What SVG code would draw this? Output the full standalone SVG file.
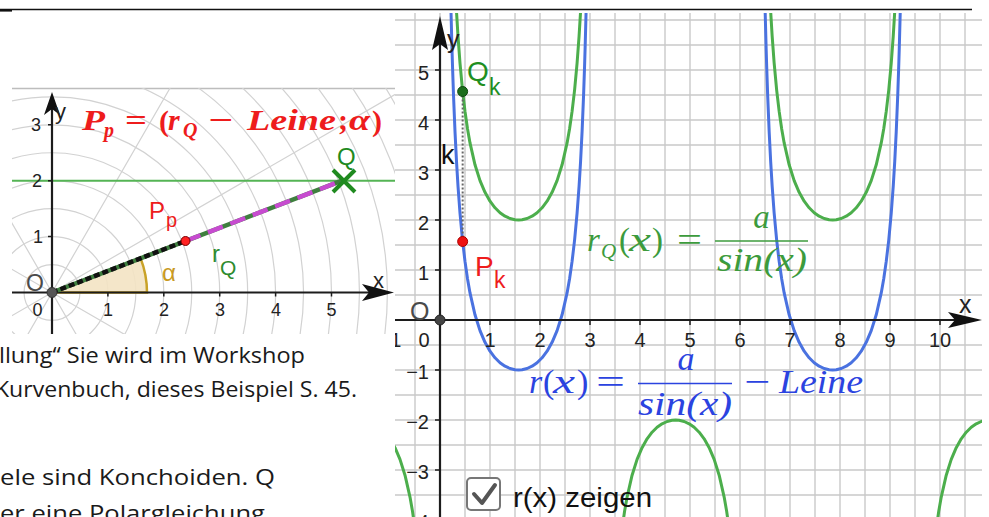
<svg xmlns="http://www.w3.org/2000/svg" width="989" height="517" viewBox="0 0 989 517">
<style>
.txt{font-family:"Open Sans","Lato","Liberation Sans",sans-serif;font-size:22px;fill:#1a1a1a}
.ax{font-family:"Liberation Sans",Arial,sans-serif;fill:#222}
.pg{fill:none;stroke:#d2d2d2;stroke-width:1.2}
.grid{fill:none;stroke:#c9c9c9;stroke-width:1.4}
.axis{stroke:#1c1c1c;stroke-width:2.2;fill:none}
.tick{stroke:#1c1c1c;stroke-width:1.5}
.arrow{fill:#111}
.gc{fill:none;stroke:#4cae4c;stroke-width:3;stroke-linejoin:round}
.bc{fill:none;stroke:#4a72e0;stroke-width:3;stroke-linejoin:round}
.math{font-family:"Liberation Serif","Times New Roman",serif;font-style:italic}
.up{font-style:normal}
.lbl{font-family:"Liberation Sans",Arial,sans-serif}
</style>
<defs>
<clipPath id="clipL"><rect x="12" y="88" width="383" height="246"/></clipPath>
<clipPath id="clipR"><rect x="395" y="13" width="587" height="504"/></clipPath>
<path id="gU" d="M455,-18.4L456.5,11.4L458,36.1L460,63.2L462.5,90.1L465,111.4L467.5,128.7L470,142.9L475,164.8L480,180.6L485,192.3L490,201.2L495,207.8L500,212.7L505,216.2L510,218.5L515,219.7L518.54,220L522.08,219.7L527.08,218.5L532.08,216.2L537.08,212.7L542.08,207.8L547.08,201.2L552.08,192.3L557.08,180.6L562.08,164.8L567.08,142.9L569.58,128.7L572.08,111.4L574.58,90.1L577.08,63.2L579.08,36.1L580.58,11.4L582.08,-18.4"/>
<path id="bU" d="M450,-33.3L451,11.8L452,49.3L452.5,65.8L453.5,95.1L455,131.6L456.5,161.4L458,186.1L460,213.2L462.5,240.1L465,261.4L467.5,278.7L470,292.9L475,314.8L480,330.6L485,342.3L490,351.2L495,357.8L500,362.7L505,366.2L510,368.5L515,369.7L518.54,370L522.08,369.7L527.08,368.5L532.08,366.2L537.08,362.7L542.08,357.8L547.08,351.2L552.08,342.3L557.08,330.6L562.08,314.8L567.08,292.9L569.58,278.7L572.08,261.4L574.58,240.1L577.08,213.2L579.08,186.1L580.58,161.4L582.08,131.6L583.58,95.1L584.58,65.8L585.08,49.3L586.08,11.8L587.08,-33.3"/>
<path id="gN" d="M622.08,528.6L624.58,511.3L627.08,497.1L632.08,475.2L637.08,459.4L642.08,447.7L647.08,438.8L652.08,432.2L657.08,427.3L662.08,423.8L667.08,421.5L672.08,420.3L675.62,420L679.16,420.3L684.16,421.5L689.16,423.8L694.16,427.3L699.16,432.2L704.16,438.8L709.16,447.7L714.16,459.4L719.16,475.2L724.16,497.1L726.66,511.3L729.16,528.6"/>
</defs>

<rect x="0" y="0" width="989" height="517" fill="#ffffff"/>
<line x1="0" y1="9.5" x2="972" y2="9.5" stroke="#111" stroke-width="1.3"/>
<line x1="0" y1="10.5" x2="12" y2="10.5" stroke="#111" stroke-width="2.2"/>

<!-- page text -->
<g id="page-text" class="txt">
<text x="-1" y="363" textLength="306" lengthAdjust="spacingAndGlyphs">llung“ Sie wird im Workshop</text>
<text x="-5" y="397" textLength="362" lengthAdjust="spacingAndGlyphs">Kurvenbuch, dieses Beispiel S. 45.</text>
<text x="0" y="485" textLength="275" lengthAdjust="spacingAndGlyphs">ele sind Konchoiden. Q</text>
<text x="0" y="521" textLength="265" lengthAdjust="spacingAndGlyphs">er eine Polargleichung</text>
</g>

<!-- LEFT PLOT -->
<g id="left-plot">
<line x1="12" y1="88.5" x2="395" y2="88.5" stroke="#bdbdbd" stroke-width="1.5"/>
<g clip-path="url(#clipL)">
<g class="pg">
<circle cx="52" cy="292.5" r="27.95"/><circle cx="52" cy="292.5" r="55.9"/><circle cx="52" cy="292.5" r="83.85"/>
<circle cx="52" cy="292.5" r="111.8"/><circle cx="52" cy="292.5" r="139.75"/><circle cx="52" cy="292.5" r="167.7"/>
<circle cx="52" cy="292.5" r="195.65"/><circle cx="52" cy="292.5" r="223.6"/><circle cx="52" cy="292.5" r="251.55"/>
<circle cx="52" cy="292.5" r="279.5"/><circle cx="52" cy="292.5" r="307.45"/><circle cx="52" cy="292.5" r="335.4"/>
<circle cx="52" cy="292.5" r="363.35"/><circle cx="52" cy="292.5" r="391.3"/><circle cx="52" cy="292.5" r="419.25"/>
<path d="M441.7,67.5L-337.7,517.5M277,-97.2L-173,682.2M-173,-97.2L277,682.2M-337.7,67.5L441.7,517.5"/>
</g>
<line id="line-y2" x1="12" y1="180.7" x2="395" y2="180.7" stroke="#55b455" stroke-width="2"/>
<g id="angle-alpha">
<path d="M52,292.5L147,292.5A95,95 0 0 0 140.64,258.33Z" fill="#f3e3c3" fill-opacity="0.9"/>
<path d="M52,292.5L147,292.5A95,95 0 0 0 140.64,258.33" fill="none" stroke="#c9a227" stroke-width="2.5"/>
</g>
<g id="left-axes">
<line class="axis" x1="12" y1="292.5" x2="372" y2="292.5"/>
<polygon class="arrow" points="394,292.5 362,284 369,292.5 362,301"/>
<line class="axis" x1="52" y1="334" x2="52" y2="106"/>
<polygon class="arrow" points="52,92 44,115 52,109 60,115"/>
<path class="tick" d="M107.9,292.5v4M163.8,292.5v4M219.7,292.5v4M275.6,292.5v4M331.5,292.5v4M52,236.6h-4M52,180.7h-4M52,124.8h-4"/>
</g>
</g>
<g id="connectors">
<line x1="52" y1="292.5" x2="342" y2="180.7" stroke="#3f7f3f" stroke-width="4.5"/>
<line x1="52" y1="292.5" x2="185.5" y2="241" stroke="#111" stroke-width="4.5" stroke-dasharray="6 3"/>
<line x1="185.5" y1="241" x2="342" y2="180.7" stroke="#c74bd0" stroke-width="4.5" stroke-dasharray="16 8"/>
</g>
<g id="left-origin">
<circle cx="52" cy="292.5" r="5" fill="#555" stroke="#333" stroke-width="1"/>
<text class="lbl" x="26" y="291" font-size="23" fill="#4a4a4a">O</text>
</g>
<g id="point-Q">
<path d="M333,170L355,192M355,170L333,192" stroke="#1f8a1f" stroke-width="4"/>
<text class="lbl" x="337" y="165" font-size="24" fill="#1f8a1f">Q</text>
</g>
<g id="point-Pp">
<circle cx="185.5" cy="241" r="4.5" fill="#f22" stroke="#700" stroke-width="1"/>
<text class="lbl" fill="#ee1c1c"><tspan x="149" y="219" font-size="24">P</tspan><tspan x="166" y="227" font-size="20">p</tspan></text>
</g>
<g id="label-rQ">
<text class="lbl" fill="#2e8b2e"><tspan x="212" y="262" font-size="24">r</tspan><tspan x="220" y="275" font-size="21">Q</tspan></text>
</g>
<text id="label-alpha" class="lbl" x="162" y="281" font-size="24" fill="#c99a22">α</text>
<g id="left-ticklabels" class="ax" font-size="18">
<text x="37.5" y="316" text-anchor="middle">0</text>
<text x="108" y="316" text-anchor="middle">1</text>
<text x="164" y="316" text-anchor="middle">2</text>
<text x="220" y="316" text-anchor="middle">3</text>
<text x="276" y="316" text-anchor="middle">4</text>
<text x="331.5" y="316" text-anchor="middle">5</text>
<text x="43" y="243" text-anchor="end">1</text>
<text x="42" y="187" text-anchor="end">2</text>
<text x="41" y="131" text-anchor="end">3</text>
<text x="373" y="288" font-size="22">x</text>
<text x="55" y="119" font-size="22">y</text>
</g>
<text id="formula-Pp" class="math" font-weight="bold" fill="#ee1c1c" font-size="30">
<tspan x="82" y="130" textLength="23" lengthAdjust="spacingAndGlyphs">P</tspan><tspan x="104" y="137" font-size="20">p</tspan><tspan x="125" y="130" class="up" textLength="22" lengthAdjust="spacingAndGlyphs">=</tspan><tspan x="159" y="131" class="up">(</tspan><tspan x="168" y="130">r</tspan><tspan x="183" y="137" font-size="20">Q</tspan><tspan x="208" y="130" class="up" textLength="25" lengthAdjust="spacingAndGlyphs">−</tspan><tspan x="247" y="130" textLength="89" lengthAdjust="spacingAndGlyphs">Leine</tspan><tspan x="338" y="130" class="up">;</tspan><tspan x="349" y="130" textLength="21" lengthAdjust="spacingAndGlyphs">α</tspan><tspan x="372" y="131" class="up">)</tspan>
</text>
</g>

<!-- RIGHT PLOT -->
<g id="right-plot">
<rect x="395" y="13" width="587" height="504" fill="#ffffff"/>
<g clip-path="url(#clipR)">
<path class="grid" d="M415,13V517M440,13V517M465,13V517M490,13V517M515,13V517M540,13V517M565,13V517M590,13V517M615,13V517M640,13V517M665,13V517M690,13V517M715,13V517M740,13V517M765,13V517M790,13V517M815,13V517M840,13V517M865,13V517M890,13V517M915,13V517M940,13V517M965,13V517M395,20H982M395,45H982M395,70H982M395,95H982M395,120H982M395,145H982M395,170H982M395,195H982M395,220H982M395,245H982M395,270H982M395,295H982M395,345H982M395,370H982M395,395H982M395,420H982M395,445H982M395,470H982M395,495H982"/>
<g id="curve-rQ">
<use href="#gU" class="gc"/>
<use href="#gU" class="gc" x="314.16"/>
<use href="#gN" class="gc"/>
<use href="#gN" class="gc" x="-314.16"/>
<use href="#gN" class="gc" x="314.16"/>
</g>
<g id="curve-r">
<use href="#bU" class="bc"/>
<use href="#bU" class="bc" x="314.16"/>
</g>
<text class="ax" x="390" y="347" font-size="20" text-anchor="middle">−1</text>
<text class="ax" x="429" y="529" font-size="20" text-anchor="end">−4</text>
</g>
<g id="right-axes">
<line class="axis" x1="395" y1="320" x2="958" y2="320"/>
<polygon class="arrow" points="982,320 948,312 955,320 948,328"/>
<line class="axis" x1="440" y1="517" x2="440" y2="42"/>
<polygon class="arrow" points="440,16 448,50 440,44 432,50"/>
<path class="tick" d="M490,320v5M540,320v5M590,320v5M640,320v5M690,320v5M740,320v5M790,320v5M840,320v5M890,320v5M940,320v5M440,70h-5M440,120h-5M440,170h-5M440,220h-5M440,270h-5M440,370h-5M440,420h-5M440,470h-5"/>
</g>
<g id="right-ticklabels" class="ax" font-size="20">
<text x="424" y="347" text-anchor="middle">0</text>
<text x="490" y="347" text-anchor="middle">1</text>
<text x="540" y="347" text-anchor="middle">2</text>
<text x="590" y="347" text-anchor="middle">3</text>
<text x="640" y="347" text-anchor="middle">4</text>
<text x="690" y="347" text-anchor="middle">5</text>
<text x="740" y="347" text-anchor="middle">6</text>
<text x="790" y="347" text-anchor="middle">7</text>
<text x="840" y="347" text-anchor="middle">8</text>
<text x="890" y="347" text-anchor="middle">9</text>
<text x="940" y="347" text-anchor="middle">10</text>
<text x="429" y="80" text-anchor="end">5</text>
<text x="429" y="130" text-anchor="end">4</text>
<text x="429" y="180" text-anchor="end">3</text>
<text x="429" y="230" text-anchor="end">2</text>
<text x="429" y="280" text-anchor="end">1</text>
<text x="429" y="379" text-anchor="end">−1</text>
<text x="429" y="429" text-anchor="end">−2</text>
<text x="429" y="479" text-anchor="end">−3</text>
<text x="959" y="313" font-size="25">x</text>
<text x="447" y="48" font-size="25">y</text>
</g>
<g id="right-origin">
<circle cx="440" cy="320" r="5" fill="#444" stroke="#222" stroke-width="1"/>
<text class="lbl" x="410" y="320" font-size="25" fill="#4a4a4a">O</text>
</g>
<g id="segment-k">
<line x1="462.65" y1="91.5" x2="462.65" y2="241.5" stroke="#666" stroke-width="2" stroke-dasharray="2 2"/>
<text class="lbl" x="441" y="164" font-size="27" fill="#111">k</text>
</g>
<g id="point-Qk">
<circle cx="462.65" cy="91.5" r="5" fill="#1c6e1c" stroke="#0f4a0f" stroke-width="1"/>
<text class="lbl" fill="#1f8f1f"><tspan x="467" y="81" font-size="28">Q</tspan><tspan x="489" y="95" font-size="23">k</tspan></text>
</g>
<g id="point-Pk">
<circle cx="462.65" cy="241.5" r="5" fill="#ee1111" stroke="#a00" stroke-width="1"/>
<text class="lbl" fill="#ee1c1c"><tspan x="475" y="276" font-size="28">P</tspan><tspan x="494" y="288" font-size="23">k</tspan></text>
</g>
<g id="formula-rQ" class="math" fill="#3c9b3c" font-size="33">
<text><tspan x="587" y="251">r</tspan><tspan x="601" y="258" font-size="21">Q</tspan><tspan x="619" y="251" class="up">(</tspan><tspan x="629" y="251" textLength="22" lengthAdjust="spacingAndGlyphs">x</tspan><tspan x="652" y="251" class="up">)</tspan><tspan x="677" y="251" class="up" textLength="25" lengthAdjust="spacingAndGlyphs">=</tspan></text>
<text x="761.5" y="228" text-anchor="middle">a</text>
<line x1="715" y1="241" x2="808" y2="241" stroke="#3c9b3c" stroke-width="1.6"/>
<text x="717" y="271" textLength="90" lengthAdjust="spacingAndGlyphs">sin(x)</text>
</g>
<g id="formula-r" class="math" fill="#2b43e0" font-size="34">
<text><tspan x="529" y="393">r</tspan><tspan x="543" y="393" class="up">(</tspan><tspan x="553" y="393" textLength="22" lengthAdjust="spacingAndGlyphs">x</tspan><tspan x="577" y="393" class="up">)</tspan><tspan x="596" y="393" class="up" textLength="29" lengthAdjust="spacingAndGlyphs">=</tspan></text>
<text x="686" y="370" text-anchor="middle">a</text>
<line x1="638" y1="383.5" x2="732" y2="383.5" stroke="#2b43e0" stroke-width="1.6"/>
<text x="638" y="415" textLength="94" lengthAdjust="spacingAndGlyphs">sin(x)</text>
<text><tspan x="744" y="393" class="up" textLength="26" lengthAdjust="spacingAndGlyphs">−</tspan><tspan x="779" y="393" textLength="84" lengthAdjust="spacingAndGlyphs">Leine</tspan></text>
</g>
<g id="checkbox">
<rect x="467" y="478" width="33" height="32" rx="4" fill="#fff" stroke="#777" stroke-width="2"/>
<path d="M474,494L482,503L495,485" fill="none" stroke="#555" stroke-width="4" stroke-linecap="round" stroke-linejoin="round"/>
<text class="lbl" x="513" y="507" font-size="27" fill="#111" textLength="139" lengthAdjust="spacingAndGlyphs">r(x) zeigen</text>
</g>
</g>
</svg>
